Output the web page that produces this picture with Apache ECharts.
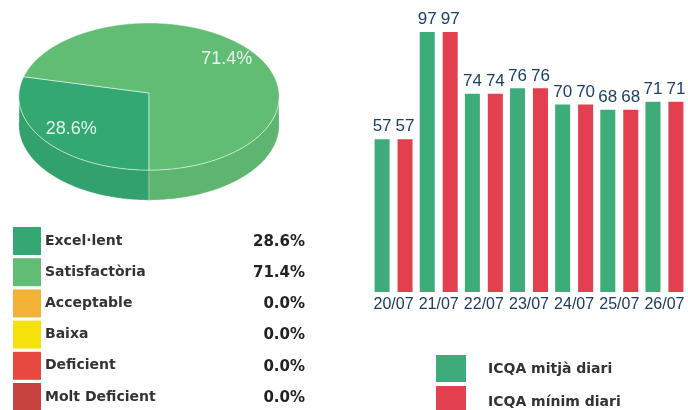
<!DOCTYPE html>
<html>
<head>
<meta charset="utf-8">
<script src="https://cdn.jsdelivr.net/npm/echarts@6/dist/echarts.min.js"></script>
<style>html,body{margin:0;padding:0;background:#fff}#c{width:688px;height:410px}</style>
</head>
<body>
<div id="c"></div>
<script>
// ---- data ----
const pieNames = ['Excel·lent', 'Satisfactòria', 'Acceptable', 'Baixa', 'Deficient', 'Molt Deficient'];
const pieValues = [28.6, 71.4, 0.0, 0.0, 0.0, 0.0];
const pieColors = ['#34a873', '#62bd74', '#f1b236', '#f5e10c', '#e7493f', '#c6423f'];
const days = ['20/07', '21/07', '22/07', '23/07', '24/07', '25/07', '26/07'];
const icqaMitja = [57, 97, 74, 76, 70, 68, 71];
const icqaMinim = [57, 97, 74, 76, 70, 68, 71];
const seriesNames = ['ICQA mitjà diari', 'ICQA mínim diari'];
const barColors = ['#3dab7a', '#e2404e'];

// ---- pseudo-3D pie geometry ----
const P = { cx: 149, cy: 93, rx: 130, ry: 73.4, persp: 0.048, depth: 28.6, start: 90 };
function proj(deg, h) {
  const a = deg * Math.PI / 180;
  const z = Math.sin(a);
  const f = 1 / (1 - P.persp * z);
  return [P.cx + P.rx * Math.cos(a) * f, P.cy + P.ry * z * f + h * P.depth * f];
}
function arc(a0, a1, h) {
  const pts = [];
  const n = Math.max(2, Math.ceil(Math.abs(a1 - a0)));
  for (let k = 0; k <= n; k++) pts.push(proj(a0 + (a1 - a0) * k / n, h));
  return pts;
}
function shade(hex, f) {
  const n = parseInt(hex.slice(1), 16);
  const r = Math.round(((n >> 16) & 255) * f), g = Math.round(((n >> 8) & 255) * f), b = Math.round((n & 255) * f);
  return 'rgb(' + r + ',' + g + ',' + b + ')';
}
const pieTotal = pieValues.reduce((s, v) => s + v, 0);

function renderPie(params, api) {
  const i = params.dataIndex;
  const v = api.value(1);
  if (!v) return null;
  let before = 0;
  for (let k = 0; k < i; k++) before += pieValues[k];
  const a0 = P.start + before / pieTotal * 360;
  const a1 = a0 + v / pieTotal * 360;
  const children = [];
  [0, 360, 720].forEach(function (k) {
    const lo = Math.max(a0, k), hi = Math.min(a1, k + 180);
    if (hi > lo) {
      const pts = arc(lo, hi, 0).concat(arc(hi, lo, 1));
      children.push({ type: 'polygon', shape: { points: pts },
        style: { fill: shade(pieColors[i], 0.96), stroke: 'rgba(255,255,255,0.3)', lineWidth: 1 } });
    }
  });
  const top = [[P.cx, P.cy]].concat(arc(a0, a1, 0));
  children.push({ type: 'polygon', shape: { points: top },
    style: { fill: pieColors[i], stroke: 'rgba(255,255,255,0.5)', lineWidth: 1 } });
  const mid = (a0 + a1) / 2 * Math.PI / 180;
  children.push({ type: 'text', x: P.cx + P.rx * Math.cos(mid) * 0.765, y: P.cy + P.ry * Math.sin(mid) * 0.765 + 1.5,
    style: { text: v.toFixed(1) + '%', fill: 'rgba(255,255,255,0.85)', font: '18px "Liberation Sans", Arial, sans-serif',
      align: 'center', verticalAlign: 'middle' } });
  return { type: 'group', children: children };
}

// ---- legend tables ----
const graphics = [];
pieNames.forEach(function (name, i) {
  graphics.push({ type: 'rect', shape: { x: 13, y: 227 + 31.2 * i, width: 28, height: 28 }, style: { fill: pieColors[i] } });
  graphics.push({ type: 'text', x: 45, y: 241 + 31.2 * i,
    style: { text: name, fill: '#333', font: 'bold 14px "DejaVu Sans", sans-serif', verticalAlign: 'middle' } });
  graphics.push({ type: 'text', x: 305, y: 242 + 31.2 * i,
    style: { text: pieValues[i].toFixed(1) + '%', fill: '#222', font: 'bold 15px "DejaVu Sans", sans-serif', align: 'right', verticalAlign: 'middle' } });
});
seriesNames.forEach(function (name, i) {
  graphics.push({ type: 'rect', shape: { x: 436, y: 355 + 31 * i, width: 30, height: 27 }, style: { fill: barColors[i] } });
  graphics.push({ type: 'text', x: 488, y: 369 + 33 * i,
    style: { text: name, fill: '#333', font: 'bold 14px "DejaVu Sans", sans-serif', verticalAlign: 'middle' } });
});

const barLabel = { show: true, position: 'top', distance: 4, color: '#1b3f66', fontSize: 17, fontFamily: '"Liberation Sans", Arial, sans-serif' };

const chart = echarts.init(document.getElementById('c'), null, { renderer: 'canvas' });
chart.setOption({
  animation: false,
  backgroundColor: '#fff',
  graphic: graphics,
  grid: { left: 371, right: 1, top: 24, bottom: 118, containLabel: false },
  xAxis: { type: 'category', data: days, axisLine: { show: false }, axisTick: { show: false },
    axisLabel: { color: '#1b3a66', fontSize: 16, margin: 5, fontFamily: '"Liberation Sans", Arial, sans-serif', interval: 0 } },
  yAxis: { type: 'value', min: 0, max: 100, show: false },
  series: [
    { type: 'custom', coordinateSystem: 'none', renderItem: renderPie, data: pieValues.map((v, i) => [i, v]), silent: true },
    { type: 'bar', name: seriesNames[0], data: icqaMitja, barWidth: 15, barGap: '53%', itemStyle: { color: barColors[0] }, label: barLabel },
    { type: 'bar', name: seriesNames[1], data: icqaMinim, barWidth: 15, barGap: '53%', itemStyle: { color: barColors[1] }, label: barLabel }
  ]
});
</script>
</body>
</html>
